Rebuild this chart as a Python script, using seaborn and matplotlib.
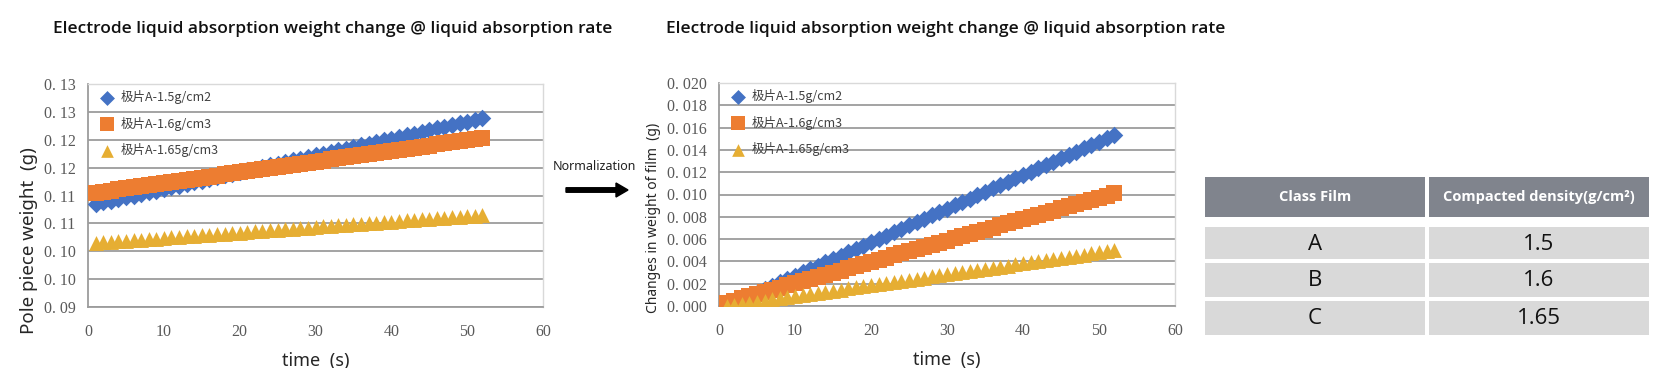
import matplotlib
matplotlib.use("Agg")
import matplotlib.pyplot as plt
import seaborn as sns
from matplotlib.patches import Rectangle, FancyArrow

# ---- data ----
time_s = list(range(1, 53))

series_names = ["极片A-1.5g/cm2", "极片A-1.6g/cm3", "极片A-1.65g/cm3"]

# pole piece weight (g)
weight_a = [0.10848, 0.10878, 0.10908, 0.10938, 0.10968, 0.10999, 0.11029, 0.11059, 0.11089, 0.11119,
            0.11149, 0.11179, 0.11209, 0.11239, 0.11269, 0.11300, 0.11330, 0.11360, 0.11390, 0.11420,
            0.11450, 0.11480, 0.11510, 0.11540, 0.11570, 0.11601, 0.11631, 0.11661, 0.11691, 0.11721,
            0.11751, 0.11781, 0.11811, 0.11841, 0.11871, 0.11902, 0.11932, 0.11962, 0.11992, 0.12022,
            0.12052, 0.12082, 0.12112, 0.12142, 0.12172, 0.12203, 0.12233, 0.12263, 0.12293, 0.12323,
            0.12353, 0.12382]
weight_b = [0.11050, 0.11069, 0.11088, 0.11108, 0.11127, 0.11146, 0.11165, 0.11185, 0.11204, 0.11223,
            0.11242, 0.11261, 0.11281, 0.11300, 0.11319, 0.11338, 0.11357, 0.11377, 0.11396, 0.11415,
            0.11434, 0.11454, 0.11473, 0.11492, 0.11511, 0.11530, 0.11550, 0.11569, 0.11588, 0.11607,
            0.11626, 0.11646, 0.11665, 0.11684, 0.11703, 0.11723, 0.11742, 0.11761, 0.11780, 0.11799,
            0.11819, 0.11838, 0.11857, 0.11876, 0.11895, 0.11915, 0.11934, 0.11953, 0.11972, 0.11992,
            0.12011, 0.12030]
weight_c = [0.10150, 0.10160, 0.10170, 0.10179, 0.10189, 0.10199, 0.10209, 0.10219, 0.10228, 0.10238,
            0.10248, 0.10258, 0.10268, 0.10277, 0.10287, 0.10297, 0.10307, 0.10317, 0.10326, 0.10336,
            0.10346, 0.10356, 0.10366, 0.10375, 0.10385, 0.10395, 0.10405, 0.10415, 0.10425, 0.10434,
            0.10444, 0.10454, 0.10464, 0.10474, 0.10483, 0.10493, 0.10503, 0.10513, 0.10523, 0.10532,
            0.10542, 0.10552, 0.10562, 0.10572, 0.10581, 0.10591, 0.10601, 0.10611, 0.10621, 0.10630,
            0.10640, 0.10650]

# change in weight of film (g), after normalization
change_a = [0.00000, 0.00030, 0.00060, 0.00090, 0.00120, 0.00151, 0.00181, 0.00211, 0.00241, 0.00271,
            0.00301, 0.00331, 0.00361, 0.00391, 0.00421, 0.00452, 0.00482, 0.00512, 0.00542, 0.00572,
            0.00602, 0.00632, 0.00662, 0.00692, 0.00722, 0.00753, 0.00783, 0.00813, 0.00843, 0.00873,
            0.00903, 0.00933, 0.00963, 0.00993, 0.01023, 0.01054, 0.01084, 0.01114, 0.01144, 0.01174,
            0.01204, 0.01234, 0.01264, 0.01294, 0.01324, 0.01355, 0.01385, 0.01415, 0.01445, 0.01475,
            0.01505, 0.01534]
change_b = [0.00030, 0.00049, 0.00068, 0.00088, 0.00107, 0.00126, 0.00145, 0.00165, 0.00184, 0.00203,
            0.00222, 0.00241, 0.00261, 0.00280, 0.00299, 0.00318, 0.00337, 0.00357, 0.00376, 0.00395,
            0.00414, 0.00434, 0.00453, 0.00472, 0.00491, 0.00510, 0.00530, 0.00549, 0.00568, 0.00587,
            0.00606, 0.00626, 0.00645, 0.00664, 0.00683, 0.00703, 0.00722, 0.00741, 0.00760, 0.00779,
            0.00799, 0.00818, 0.00837, 0.00856, 0.00875, 0.00895, 0.00914, 0.00933, 0.00952, 0.00972,
            0.00991, 0.01010]
change_c = [0.00000, 0.00010, 0.00020, 0.00029, 0.00039, 0.00049, 0.00059, 0.00069, 0.00078, 0.00088,
            0.00098, 0.00108, 0.00118, 0.00127, 0.00137, 0.00147, 0.00157, 0.00167, 0.00176, 0.00186,
            0.00196, 0.00206, 0.00216, 0.00225, 0.00235, 0.00245, 0.00255, 0.00265, 0.00275, 0.00284,
            0.00294, 0.00304, 0.00314, 0.00324, 0.00333, 0.00343, 0.00353, 0.00363, 0.00373, 0.00382,
            0.00392, 0.00402, 0.00412, 0.00422, 0.00431, 0.00441, 0.00451, 0.00461, 0.00471, 0.00480,
            0.00490, 0.00500]

x_ticks = [0, 10, 20, 30, 40, 50, 60]
left_y_ticks = [0.09, 0.095, 0.10, 0.105, 0.11, 0.115, 0.12, 0.125, 0.13]
left_y_labels = ["0. 09", "0. 10", "0. 10", "0. 11", "0. 11", "0. 12", "0. 12", "0. 13", "0. 13"]
right_y_ticks = [0.0, 0.002, 0.004, 0.006, 0.008, 0.010, 0.012, 0.014, 0.016, 0.018, 0.020]
right_y_labels = ["0. 000", "0. 002", "0. 004", "0. 006", "0. 008", "0. 010",
                  "0. 012", "0. 014", "0. 016", "0. 018", "0. 020"]

table_header = ["Class Film", "Compacted density(g/cm²)"]
table_class = ["A", "B", "C"]
table_density = ["1.5", "1.6", "1.65"]

title_text = "Electrode liquid absorption weight change @ liquid absorption rate"

colors = ["#4472C4", "#ED7D31", "#E6AE33"]
markers = ["D", "s", "^"]
sizes = [80, 130, 115]

sns.set_style("white")
plt.rcParams["font.family"] = ["Noto Sans", "Noto Sans CJK SC", "DejaVu Sans"]

W, H = 1657, 368
fig = plt.figure(figsize=(W / 100, H / 100), dpi=100)


def px_axes(x0, y0, x1, y1):
    return fig.add_axes([x0 / W, 1 - y1 / H, (x1 - x0) / W, (y1 - y0) / H])


def draw_panel(ax, series, yticks, ylabels, ylabel, ylabel_size, ylabel_pos):
    for vals, name, c, m, s in zip(series, series_names, colors, markers, sizes):
        sns.scatterplot(x=time_s, y=vals, ax=ax, marker=m, color=c, s=s,
                        linewidth=0, label=name, zorder=3)
    ax.set_xlim(0, 60)
    ax.set_ylim(yticks[0], yticks[-1])
    ax.set_xticks(x_ticks)
    ax.set_xticklabels([str(v) for v in x_ticks])
    ax.set_yticks(yticks)
    ax.set_yticklabels(ylabels)
    for lab in ax.get_xticklabels() + ax.get_yticklabels():
        lab.set_fontfamily("Liberation Serif")
        lab.set_fontsize(11.5)
        lab.set_color("#595959")
    ax.tick_params(axis="both", length=0)
    ax.tick_params(axis="y", pad=9)
    ax.tick_params(axis="x", pad=12)
    ax.yaxis.grid(True, color="#9C9C9C", linewidth=1.3, zorder=0)
    ax.xaxis.grid(False)
    ax.set_axisbelow(True)
    for side in ["left", "bottom"]:
        ax.spines[side].set_color("#9C9C9C")
        ax.spines[side].set_linewidth(1.3)
    for side in ["right", "top"]:
        ax.spines[side].set_color("#D9D9D9")
        ax.spines[side].set_linewidth(1.0)
    ax.set_xlabel("time  (s)", fontsize=13, color="#262626")
    ax.xaxis.set_label_coords(0.5, -0.2)
    ax.set_ylabel(ylabel, fontsize=ylabel_size, color="#262626")
    ax.yaxis.set_label_coords(*ylabel_pos)
    leg = ax.legend(loc="upper left", bbox_to_anchor=(0.0, 1.0), frameon=False,
                    prop={"family": "Noto Sans CJK SC", "size": 9},
                    labelspacing=1.0, handletextpad=0.1, borderaxespad=0.2,
                    borderpad=0.3, markerscale=0.85)
    for t in leg.get_texts():
        t.set_color("#404040")


ax1 = px_axes(88, 84, 543, 307)
draw_panel(ax1, [weight_a, weight_b, weight_c], left_y_ticks, left_y_labels,
           "Pole piece weight  (g)", 13.5, (-0.11, 0.3))

ax2 = px_axes(719, 83, 1175, 306)
draw_panel(ax2, [change_a, change_b, change_c], right_y_ticks, right_y_labels,
           "Changes in weight of film  (g)", 10, (-0.127, 0.395))

fig.text(53 / W, 1 - 29 / H, title_text, fontsize=12.5, fontweight="semibold",
         family="Open Sans", color="#111111", ha="left", va="center")
fig.text(666 / W, 1 - 29 / H, title_text, fontsize=12.5, fontweight="semibold",
         family="Open Sans", color="#111111", ha="left", va="center")

# normalization arrow between the charts
fig.text(594 / W, 1 - 167 / H, "Normalization", fontsize=9, color="#222222",
         ha="center", va="center")
fig.patches.append(FancyArrow(
    566 / W, 1 - 190 / H, 50 / W, 0, width=4.5 / H, head_width=14 / H,
    head_length=12 / W, length_includes_head=False, color="black",
    transform=fig.transFigure, figure=fig))

# table on the right
tax = px_axes(1205, 177, 1649, 336)
tax.set_xlim(1205, 1649)
tax.set_ylim(336, 177)
tax.axis("off")
col_edges = [(1205, 1425), (1429, 1649)]
for x0, x1 in col_edges:
    tax.add_patch(Rectangle((x0, 177), x1 - x0, 40, color="#80848D", lw=0))
for (x0, x1), txt in zip(col_edges, table_header):
    tax.text((x0 + x1) / 2, 197, txt, ha="center", va="center", color="white",
             fontsize=10.5, fontweight="bold", family="Open Sans")
row_edges = [(227, 259), (263, 297), (301, 335)]
for (y0, y1), a, b in zip(row_edges, table_class, table_density):
    for (x0, x1), txt in zip(col_edges, [a, b]):
        tax.add_patch(Rectangle((x0, y0), x1 - x0, y1 - y0, color="#D9D9D9", lw=0))
        tax.text((x0 + x1) / 2, (y0 + y1) / 2 + 1, txt, ha="center", va="center",
                 color="#111111", fontsize=16, family="Open Sans")

plt.savefig("out.png", dpi=100)
